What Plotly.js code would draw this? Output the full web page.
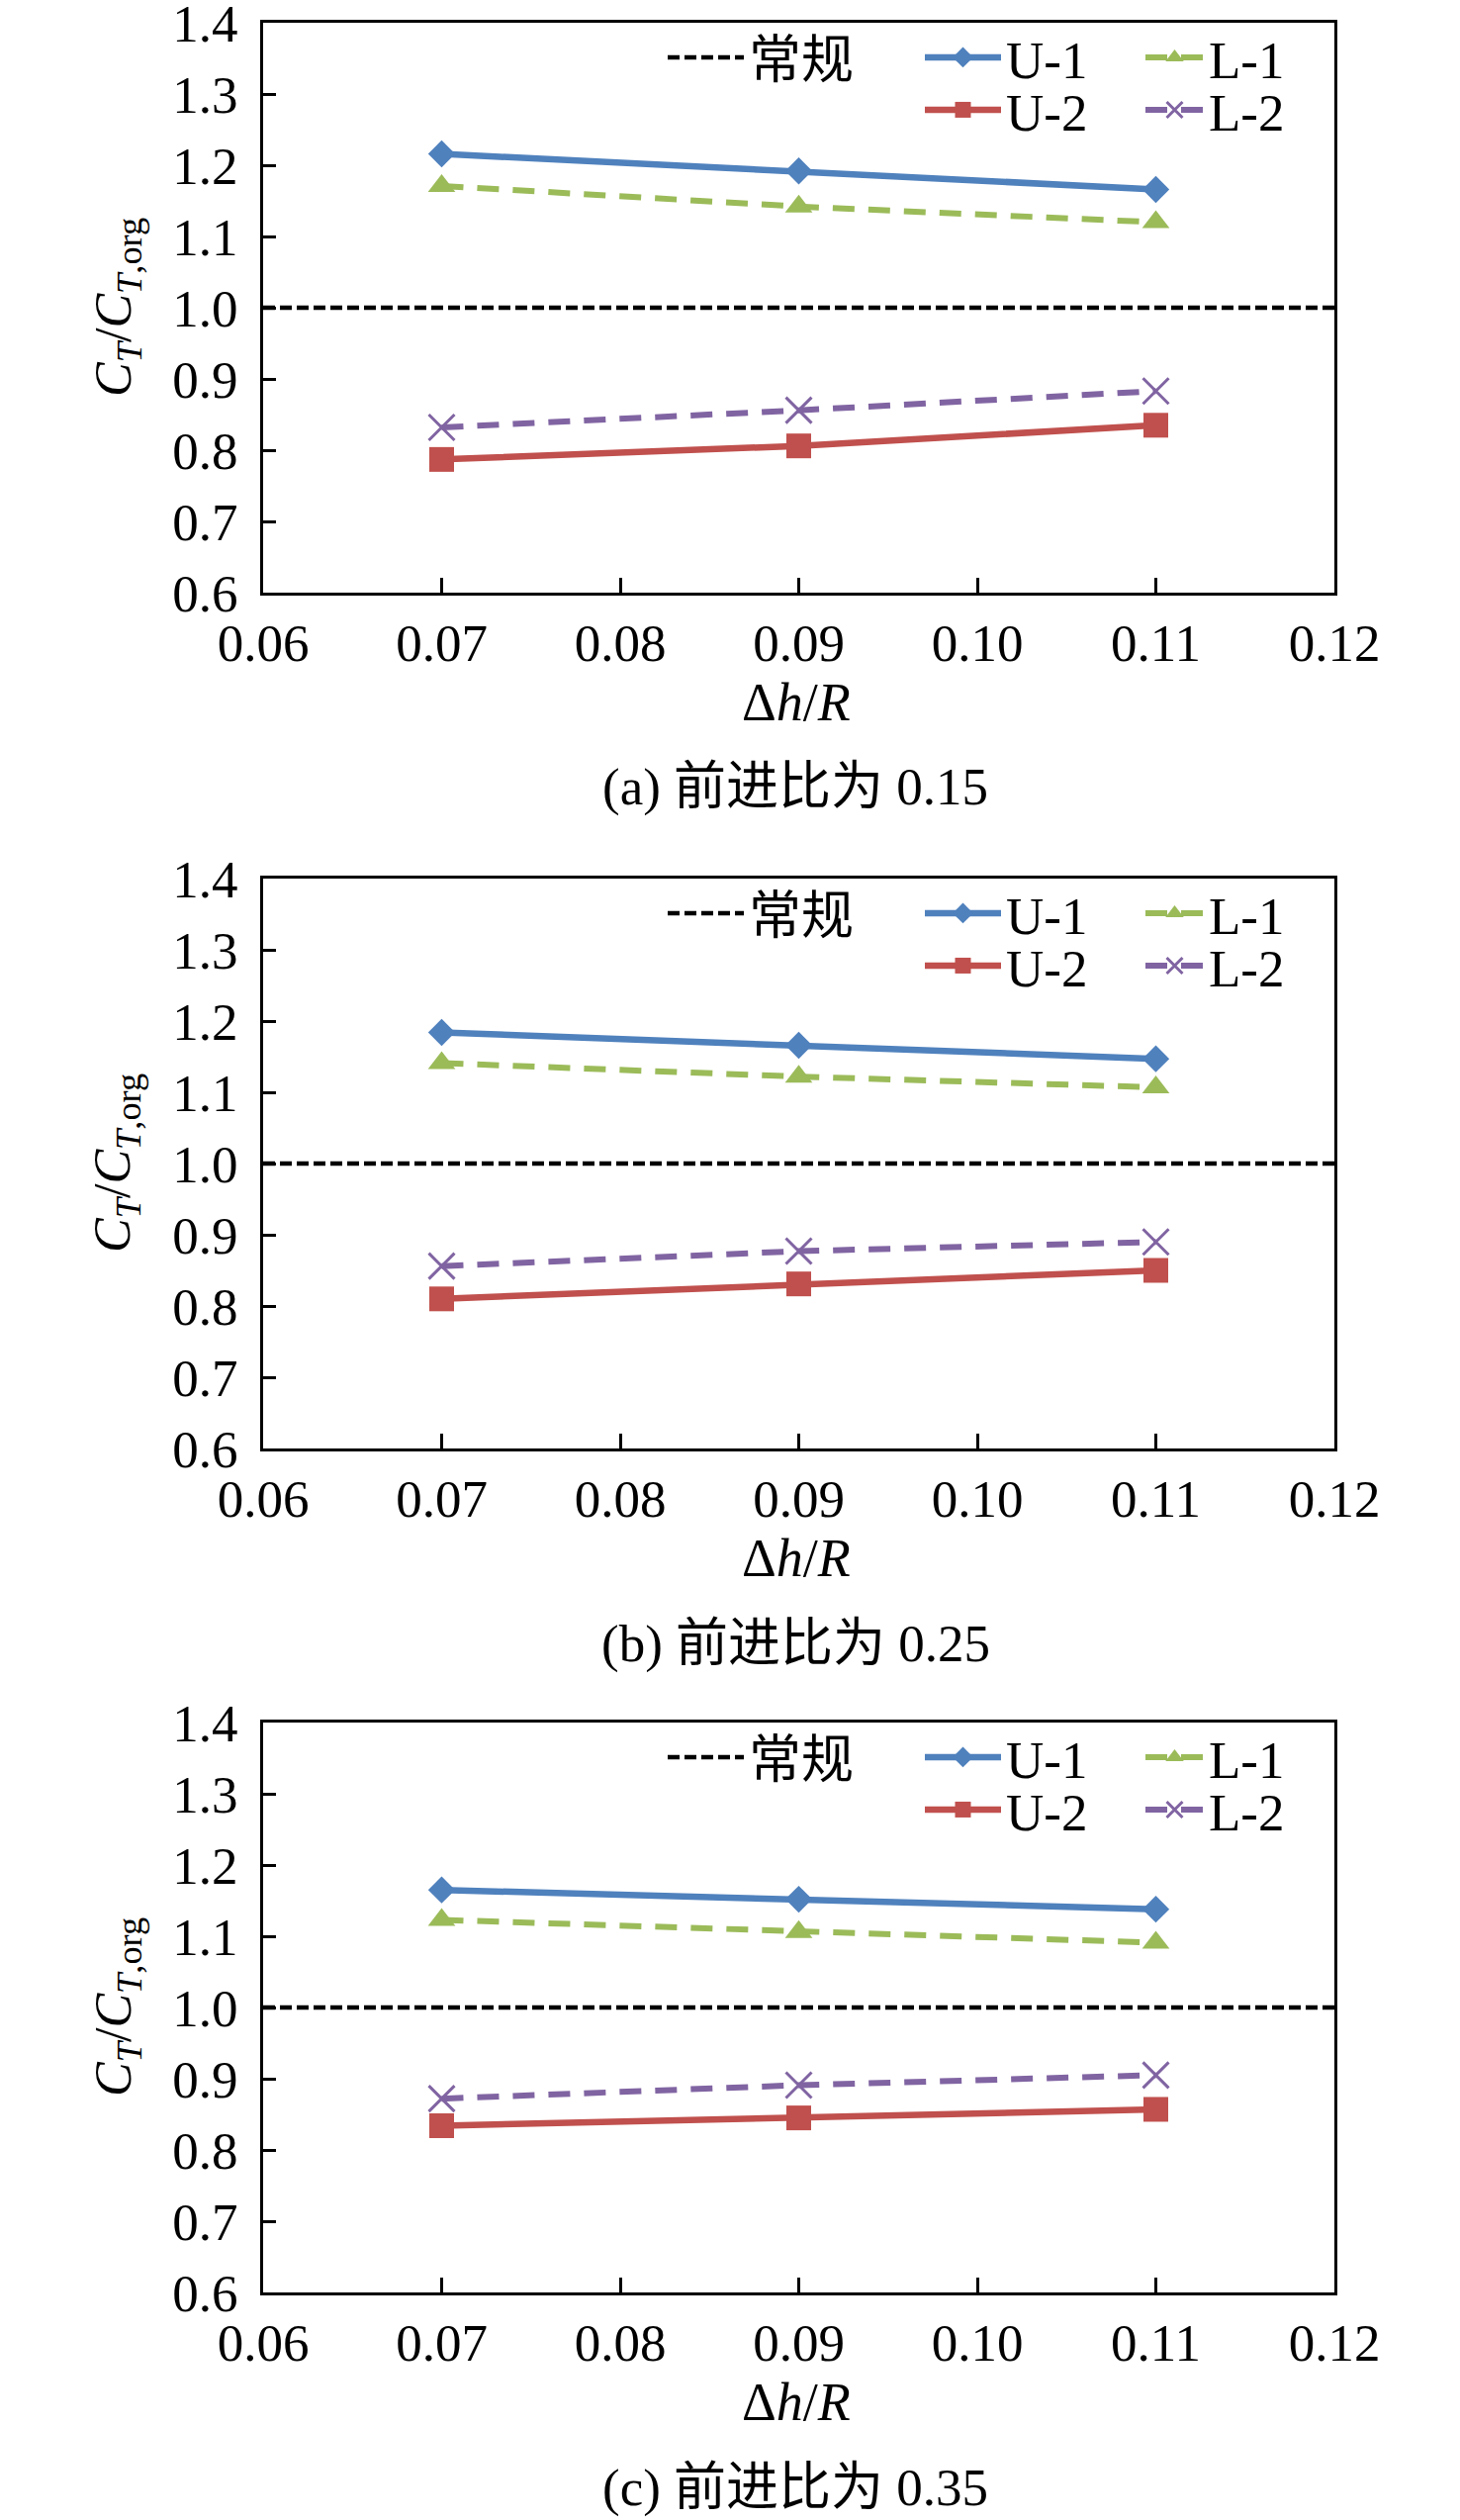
<!DOCTYPE html>
<html>
<head>
<meta charset="utf-8">
<script src="https://cdn.plot.ly/plotly-3.0.1.min.js"></script>
<style>
  html, body { margin: 0; padding: 0; background: #ffffff; }
  #chart { width: 1476px; height: 2547px; }
</style>
</head>
<body>
<div id="chart"></div>
<script>
// Values
const xVals = [0.07, 0.09, 0.11];
const refX = [0.06, 0.12];
const refY = [1.0, 1.0];

const u1A = [1.216, 1.192, 1.166];
const l1A = [1.171, 1.142, 1.120];
const u2A = [0.787, 0.806, 0.835];
const l2A = [0.832, 0.856, 0.883];

const u1B = [1.184, 1.166, 1.147];
const l1B = [1.141, 1.122, 1.107];
const u2B = [0.810, 0.831, 0.850];
const l2B = [0.856, 0.877, 0.890];

const u1C = [1.165, 1.152, 1.138];
const l1C = [1.123, 1.106, 1.091];
const u2C = [0.834, 0.845, 0.857];
const l2C = [0.872, 0.891, 0.905];

const captions = ["(a) 前进比为 0.15", "(b) 前进比为 0.25", "(c) 前进比为 0.35"];
const refName = "常规";
const xTitle = "Δ<i>h</i>/<i>R</i>";
const yTitle = "<i>C</i><sub><i>T</i></sub>/<i>C</i><sub><i>T</i>,org</sub>";

const panels = [
  { u1: u1A, l1: l1A, u2: u2A, l2: l2A },
  { u1: u1B, l1: l1B, u2: u2B, l2: l2B },
  { u1: u1C, l1: l1C, u2: u2C, l2: l2C },
];

const W = 1476;
const H = 2547;
const FONT = "'Liberation Serif', 'Times New Roman', 'Noto Sans CJK SC', serif";

// pixel geometry of the three plot boxes
const plotLeft = 266;
const plotRight = 1349;
const panelTops = [23, 888, 1741];
const panelH = 576;

const px = (x) => x / W;
const py = (y) => 1 - y / H;

const traces = [];
const layout = {
  width: W,
  height: H,
  margin: { l: 0, r: 0, t: 0, b: 0 },
  paper_bgcolor: "#ffffff",
  plot_bgcolor: "#ffffff",
  font: { family: FONT, size: 53, color: "#000000" },
  showlegend: true,
  annotations: [],
};

// one small legend per entry so each sits where the reference has it
let legendCount = 0;
function nextLegend(x, y, itemwidth) {
  legendCount += 1;
  const key = legendCount === 1 ? "legend" : "legend" + legendCount;
  layout[key] = {
    x: px(x),
    y: py(y),
    xanchor: "left",
    yanchor: "middle",
    orientation: "h",
    itemwidth: itemwidth,
    bgcolor: "rgba(0,0,0,0)",
    borderwidth: 0,
    font: { family: FONT, size: 53, color: "#000000" },
    itemclick: false,
    itemdoubleclick: false,
  };
  return key;
}

panels.forEach((p, i) => {
  const n = i + 1;
  const xa = n === 1 ? "x" : "x" + n;
  const ya = n === 1 ? "y" : "y" + n;
  const top = panelTops[i];
  const bottom = top + panelH;
  const row1 = top + 35;
  const row2 = top + 88;

  traces.push({
    type: "scatter", mode: "lines", name: refName,
    x: refX, y: refY, xaxis: xa, yaxis: ya,
    line: { color: "#000000", width: 4.5, dash: "12px,5px" },
    legend: nextLegend(670, row1, 77),
    hoverinfo: "skip",
  });
  traces.push({
    type: "scatter", mode: "lines+markers", name: "U-1",
    x: xVals, y: p.u1, xaxis: xa, yaxis: ya,
    line: { color: "#4F81BD", width: 6.5 },
    marker: { symbol: "diamond", size: 21, color: "#4F81BD" },
    legend: nextLegend(930, row1, 77),
  });
  traces.push({
    type: "scatter", mode: "lines+markers", name: "L-1",
    x: xVals, y: p.l1, xaxis: xa, yaxis: ya,
    line: { color: "#9BBB59", width: 6, dash: "22px,14px" },
    marker: { symbol: "triangle-up", size: 24, color: "#9BBB59" },
    legend: nextLegend(1153, row1, 59),
  });
  traces.push({
    type: "scatter", mode: "lines+markers", name: "U-2",
    x: xVals, y: p.u2, xaxis: xa, yaxis: ya,
    line: { color: "#C0504D", width: 6.5 },
    marker: { symbol: "square", size: 25, color: "#C0504D" },
    legend: nextLegend(930, row2, 77),
  });
  traces.push({
    type: "scatter", mode: "lines+markers", name: "L-2",
    x: xVals, y: p.l2, xaxis: xa, yaxis: ya,
    line: { color: "#8064A2", width: 6, dash: "22px,14px" },
    marker: { symbol: "x-thin-open", size: 26, color: "#8064A2", line: { color: "#8064A2", width: 3 } },
    legend: nextLegend(1153, row2, 59),
  });

  const axisBase = {
    showline: true,
    linewidth: 3,
    linecolor: "#000000",
    mirror: true,
    showgrid: false,
    zeroline: false,
    ticks: "inside",
    tickwidth: 3,
    tickcolor: "#000000",
    tickfont: { family: FONT, size: 53, color: "#000000" },
    ticklabeloverflow: "allow",
    fixedrange: true,
  };

  layout["xaxis" + (n === 1 ? "" : n)] = Object.assign({}, axisBase, {
    domain: [px(plotLeft), px(plotRight)],
    anchor: ya,
    range: [0.06, 0.12],
    tick0: 0.06,
    dtick: 0.01,
    tickformat: ".2f",
    ticklen: 15,
    ticklabelstandoff: 2,
  });
  layout["yaxis" + (n === 1 ? "" : n)] = Object.assign({}, axisBase, {
    domain: [py(bottom), py(top)],
    anchor: xa,
    range: [0.6, 1.4000001],
    tick0: 0.6,
    dtick: 0.1,
    tickformat: ".1f",
    ticklen: 13,
    ticklabelstandoff: 12,
  });

  layout.annotations.push(
    {
      text: yTitle, xref: "paper", yref: "paper",
      x: px(118), y: py(top + 288), xanchor: "center", yanchor: "middle",
      textangle: -90, showarrow: false,
      font: { family: FONT, size: 52, color: "#000000" },
    },
    {
      text: xTitle, xref: "paper", yref: "paper",
      x: px(805), y: py(bottom + 111), xanchor: "center", yanchor: "middle",
      showarrow: false,
      font: { family: FONT, size: 54, color: "#000000" },
    },
    {
      text: captions[i], xref: "paper", yref: "paper",
      x: px(804), y: py(bottom + 197), xanchor: "center", yanchor: "middle",
      showarrow: false,
      font: { family: FONT, size: 53, color: "#000000" },
    }
  );
});

Plotly.newPlot("chart", traces, layout, { displayModeBar: false, staticPlot: true });
</script>
</body>
</html>
